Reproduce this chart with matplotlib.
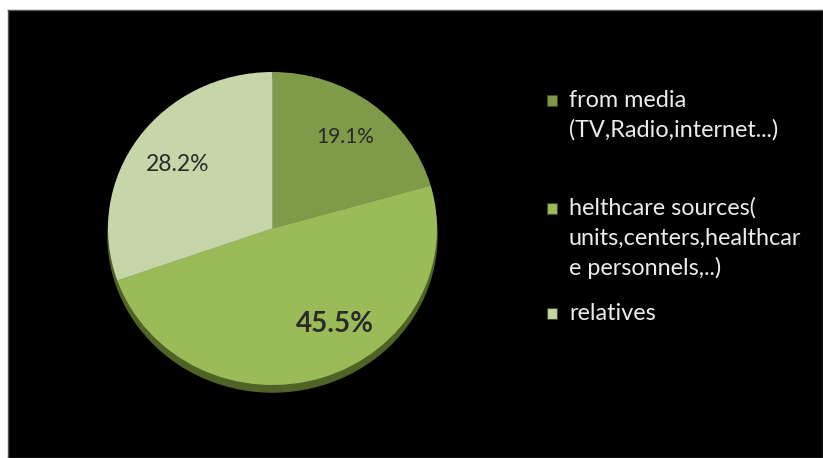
import numpy as np
import matplotlib
matplotlib.use("Agg")
import matplotlib.pyplot as plt
from matplotlib.patches import Rectangle, Ellipse

categories = ["from media\n(TV,Radio,internet...)",
              "helthcare sources(\nunits,centers,healthcar\ne personnels,..)",
              "relatives"]
values = [19.1, 45.5, 28.2]
colors = ["#7f9a48", "#9bbb59", "#c6d6a9"]
label_bold = [False, True, False]

W, H = 823, 458
fig = plt.figure(figsize=(W / 100, H / 100), dpi=100)
fig.patch.set_facecolor("white")

# black slide background with thin grey edge
bg = fig.add_axes([8 / W, 0, 1 - 8 / W, (H - 10) / H])
bg.set_facecolor("black")
bg.set_xticks([])
bg.set_yticks([])
for s in bg.spines.values():
    s.set_color("#555555")
    s.set_linewidth(1)

# pie face spans x 108..437, y 72..385 (pixels from top)
ax = fig.add_axes([108 / W, (H - 385) / H, 329 / W, 313 / H])
ax.set_facecolor("none")
ax.add_patch(Ellipse((0, -0.045), 2.0, 2.0, color="#4f6326", clip_on=False, zorder=0))
wedges, _ = ax.pie(values, colors=colors, startangle=90, counterclock=False,
                   radius=1.0, wedgeprops=dict(linewidth=0))
ax.set_aspect("auto")
ax.set_xlim(-1, 1)
ax.set_ylim(-1, 1)
ax.axis("off")

# percentage labels inside the wedges
label_r = [0.73, 0.72, 0.71]
label_shift = [0, 14, 0]   # degrees, nudges the bold label toward the lower right
label_size = [15, 20, 16.5]
for w, v, b, r, d, fs in zip(wedges, values, label_bold, label_r, label_shift, label_size):
    ang = np.deg2rad((w.theta1 + w.theta2) / 2 + d)
    ax.text(r * np.cos(ang), r * np.sin(ang), f"{v:.1f}%",
            ha="center", va="center", family="Lato",
            fontsize=fs, fontweight="bold" if b else "normal",
            color="#2a2a2a")

# legend drawn on the right
first_base = [107, 215, 320]   # baseline of first line, pixels from top
line_gap = 30
for lab, c, yb in zip(categories, colors, first_base):
    fig.patches.append(Rectangle((547 / W, (H - yb + 1) / H), 10 / W, 11 / H,
                                 transform=fig.transFigure, facecolor=c,
                                 edgecolor="#3d4d1c", linewidth=0.8))
    for i, line in enumerate(lab.split("\n")):
        fig.text(569 / W, (H - yb - i * line_gap) / H, line, ha="left",
                 va="baseline", family="Lato", fontsize=16.8, color="#ececec")

fig.savefig("out.png", dpi=100, facecolor=fig.get_facecolor())
